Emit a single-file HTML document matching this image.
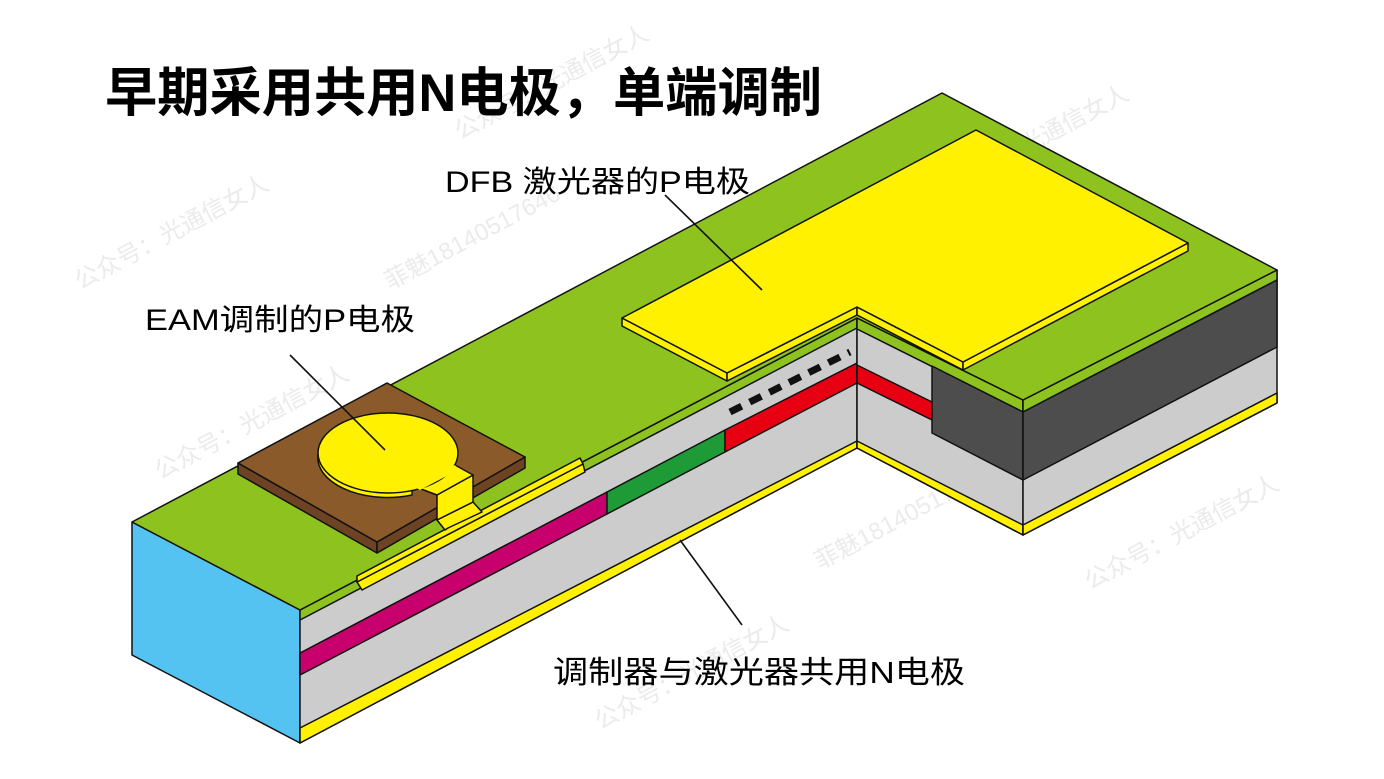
<!DOCTYPE html>
<html><head><meta charset="utf-8"><style>
html,body{margin:0;padding:0;background:#fff;}
svg{display:block;}
text{font-family:"Liberation Sans","Noto Sans CJK SC",sans-serif;}
</style></head><body>
<svg width="1384" height="779" viewBox="0 0 1384 779" xmlns="http://www.w3.org/2000/svg" stroke="#111" stroke-width="1.5" stroke-linejoin="round">
<g fill="#ebebeb" stroke="none" font-size="24" font-family="Liberation Serif,Noto Serif CJK SC,serif">
<text transform="translate(80,290) rotate(-28)">公众号：光通信女人</text>
<text transform="translate(390,290) rotate(-28)">菲魅18140517646</text>
<text transform="translate(460,140) rotate(-28)">公众号：光通信女人</text>
<text transform="translate(940,200) rotate(-28)">公众号：光通信女人</text>
<text transform="translate(160,480) rotate(-28)">公众号：光通信女人</text>
<text transform="translate(580,330) rotate(-28)">公众号：光通信女人</text>
<text transform="translate(230,670) rotate(-28)">公众号：光通信女人</text>
<text transform="translate(640,530) rotate(-28)">公众号：光通信女人</text>
<text transform="translate(820,570) rotate(-28)">菲魅18140517646</text>
<text transform="translate(1090,590) rotate(-28)">公众号：光通信女人</text>
<text transform="translate(600,730) rotate(-28)">公众号：光通信女人</text>
</g>

<polygon points="132,522 300,610 300,743 132,655" fill="#55c3f2"/>

<polygon points="300,610 857,318 857,448 300,743" fill="#cccccc"/>
<polygon points="300,610 857,318 857,328 300,620" fill="#8dc21f"/>
<polygon points="300,728 857,441 857,448 300,743" fill="#fff100"/>
<polygon points="300,653 607,492 607,514 300,675" fill="#c8006e"/>
<polygon points="607,492 725,430 725,452 607,514" fill="#1e9a37"/>
<polygon points="725,430 857,363 857,383 725,452" fill="#e60012"/>
<line x1="730" y1="412" x2="850" y2="352" stroke="#111" stroke-width="7" stroke-dasharray="13,9" stroke-linejoin="miter"/>

<polygon points="857,318 1023,400 1023,535 857,448" fill="#cccccc"/>
<polygon points="857,318 1023,400 1023,412 857,329" fill="#8dc21f"/>
<polygon points="857,441 1023,525 1023,535 857,448" fill="#fff100"/>
<polygon points="857,365 932,402 932,420 857,383" fill="#e60012"/>
<polygon points="932,366 1023,412 1023,480 932,433" fill="#4d4d4d"/>

<polygon points="1023,400 1277,270 1277,403 1023,535" fill="#cccccc"/>
<polygon points="1023,400 1277,270 1277,280 1023,412" fill="#8dc21f"/>
<polygon points="1023,412 1277,280 1277,347 1023,480" fill="#4d4d4d"/>
<polygon points="1023,525 1277,393 1277,403 1023,535" fill="#fff100"/>

<polygon points="132,522 942,93 1277,270 1023,400 857,318 300,610" fill="#8dc21f"/>

<!-- DFB pad side faces -->
<g fill="#fff100">
<polygon points="622,318 727,373 727,381 622,326"/>
<polygon points="727,373 857,307 857,315 727,381"/>
<polygon points="857,307 963,362 963,370 857,315"/>
<polygon points="963,362 1188,243 1188,251 963,370"/>
<polygon points="622,318 976,130 1188,243 963,362 857,307 727,373"/>
</g>

<polygon points="357,582 583,464 585,472 362,590" fill="#fff100"/>
<polygon points="357,576 580,458 583,464 357,582" fill="#fff100"/>

<polygon points="238,463 377,542 377,553 238,474" fill="#6e4324"/>
<polygon points="377,542 525,457 525,468 377,553" fill="#6e4324"/>
<polygon points="238,463 387,383 525,457 377,542" fill="#8b5a2b"/>

<!-- neck onto green to strip -->
<polygon points="437,520 473,502 482,512 448,528 445,530" fill="#fff100"/>
<polygon points="437,495 473,475 473,502 437,520" fill="#fff100"/>
<polygon points="413,486 455,465 473,475 437,495" fill="#fff100"/>
<path d="M318,453 L318,461 A70,40 0 0 0 412,495 L412,487 Z" fill="#fff100"/>
<ellipse cx="388" cy="453" rx="70" ry="40" fill="#fff100"/>
<polygon points="413,486 455,465 458,470 420,490" fill="#fff100" stroke="none"/>

<g stroke="#111" stroke-width="1.6">
<line x1="665" y1="195" x2="762" y2="290"/>
<line x1="290" y1="355" x2="385" y2="450"/>
<line x1="680" y1="540" x2="742" y2="625"/>
</g>

<g stroke="none" fill="#000">
<text x="105" y="111" font-size="53" font-weight="bold" textLength="717" lengthAdjust="spacingAndGlyphs">早期采用共用N电极，单端调制</text>
<text x="445" y="192" font-size="30" textLength="305" lengthAdjust="spacingAndGlyphs">DFB 激光器的P电极</text>
<text x="145" y="330" font-size="30" textLength="270" lengthAdjust="spacingAndGlyphs">EAM调制的P电极</text>
<text x="553" y="683" font-size="31" textLength="412" lengthAdjust="spacingAndGlyphs">调制器与激光器共用N电极</text>
</g>
</svg>
</body></html>
